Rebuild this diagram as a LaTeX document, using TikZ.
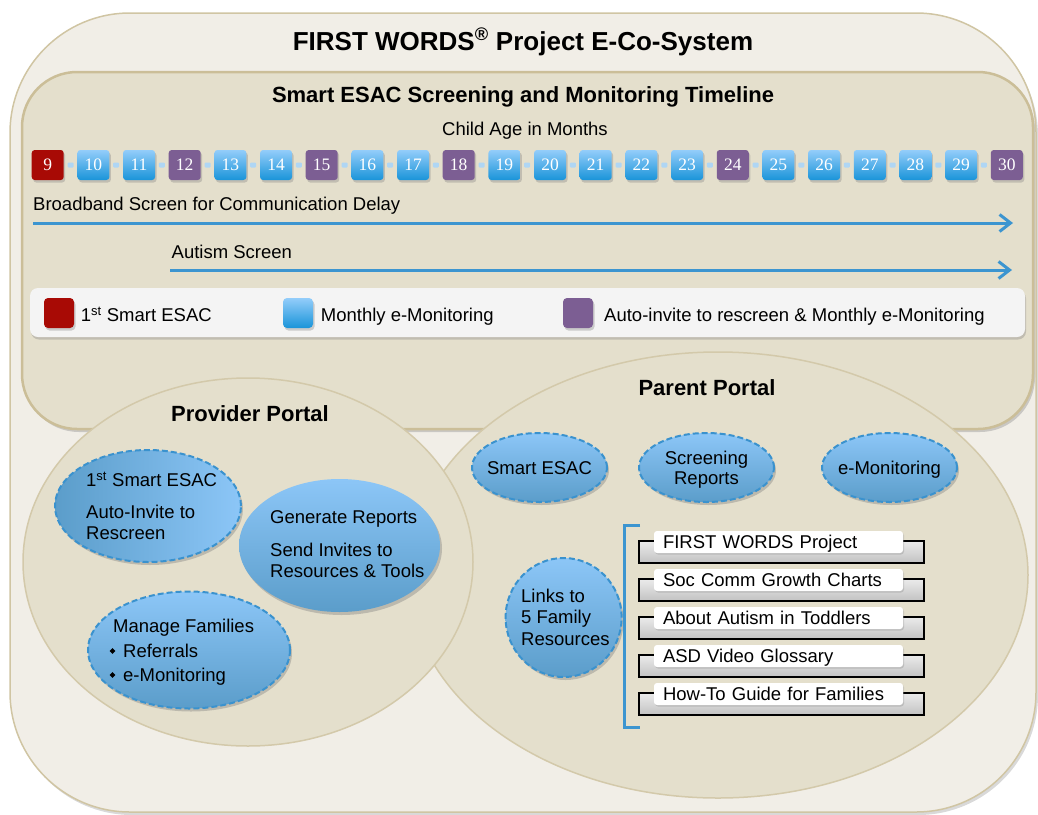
\documentclass[tikz,border=0pt]{standalone}
\usepackage{fontspec}
\setmainfont{Liberation Sans}
\newfontfamily\numfont{Liberation Serif}
\usetikzlibrary{shapes.geometric,shadows,arrows.meta,calc}
\definecolor{outerfill}{HTML}{F1EEE7}
\definecolor{outerdraw}{HTML}{D0C5A3}
\definecolor{tlfill}{HTML}{E4DFCC}
\definecolor{tldraw}{HTML}{CBBE98}
\definecolor{portfill}{HTML}{E4DFCC}
\definecolor{portdraw}{HTML}{D3C9AA}
\definecolor{redbox}{HTML}{A80A05}
\definecolor{purplebox}{HTML}{7C5E93}
\definecolor{bluetop}{HTML}{93CDFA}
\definecolor{bluebot}{HTML}{1A94D9}
\definecolor{arrowblue}{HTML}{3C95D0}
\definecolor{elltop}{HTML}{8CC6F7}
\definecolor{ellbot}{HTML}{5B9DCA}
\definecolor{dashblue}{HTML}{3A92CE}
\definecolor{tickblue}{HTML}{AFD6F4}
\definecolor{legfill}{HTML}{F4F4F4}
\definecolor{greytop}{HTML}{EBEBEB}
\definecolor{greybot}{HTML}{C2C2C2}
\tikzset{
  lbl/.style={inner sep=0pt, font=\fontsize{18.5}{21}\selectfont, anchor=base west},
  ttl/.style={inner sep=0pt, font=\bfseries\fontsize{22}{22}\selectfont},
  shad/.style={drop shadow={opacity=0.35, shadow xshift=1.5pt, shadow yshift=-2.5pt}},
  mbox/.style={minimum width=32pt, minimum height=30pt, rounded corners=3pt, inner sep=0pt,
    text=white, font=\numfont\fontsize{17.5}{17.5}\selectfont, shad},
  mred/.style={mbox, fill=redbox},
  mpur/.style={mbox, fill=purplebox},
  mblue/.style={mbox, top color=bluetop, bottom color=bluebot},
  tickn/.style={fill=tickblue, minimum width=6pt, minimum height=5pt, inner sep=0pt, rounded corners=1pt},
  tlarrow/.style={draw=arrowblue, line width=3pt, -{Straight Barb[length=11pt, width=17pt]}},
  lsq/.style={minimum size=30pt, inner sep=0pt, rounded corners=4pt, shad},
  portal/.style={ellipse, draw=portdraw, fill=portfill, line width=1.5pt, inner sep=0pt},
  sell/.style={ellipse, inner sep=0pt, top color=elltop, bottom color=ellbot,
    drop shadow={opacity=0.4, shadow xshift=2pt, shadow yshift=-3pt}},
  dell/.style={sell, draw=dashblue, line width=2pt, dash pattern=on 6pt off 3pt},
  bul/.style={diamond, fill=black, minimum size=6pt, inner sep=0pt},
  brk/.style={draw=arrowblue, line width=3pt},
  backbox/.style={rectangle, draw=black, line width=1.3pt, top color=greytop, bottom color=greybot,
    minimum width=285pt, minimum height=22pt, inner sep=0pt},
  frontbox/.style={rectangle, rounded corners=3pt, fill=white, minimum width=249pt, minimum height=22pt,
    text width=231pt, inner xsep=9pt, inner ysep=0pt, align=left, text height=14pt, text depth=1pt,
    font=\fontsize{18.5}{21}\selectfont, drop shadow={opacity=0.3, shadow xshift=1pt, shadow yshift=-1.5pt}}
}
\begin{document}
\begin{tikzpicture}[x=1pt, y=-1pt]
\useasboundingbox (0,0) rectangle (1038,814);
% outer frame
\path[draw=outerdraw, fill=outerfill, line width=1.5pt, rounded corners=120pt,
  drop shadow={opacity=0.3, shadow xshift=2pt, shadow yshift=-3pt}] (10,13) rectangle (1036,812);
\node[inner sep=0pt, font=\bfseries\fontsize{26}{26}\selectfont, anchor=base] (title) at (523,50)
  {FIRST WORDS\textsuperscript{®} Project E-Co-System};
% timeline panel
\path[draw=tldraw, fill=tlfill, line width=2.5pt, rounded corners=55pt,
  drop shadow={opacity=0.35, shadow xshift=2pt, shadow yshift=-3pt}] (22,72) rectangle (1033,429);
\node[inner sep=0pt, font=\bfseries\fontsize{22}{22}\selectfont, anchor=base] (sub) at (523,102)
  {Smart ESAC Screening and Monitoring Timeline};
\node[lbl, anchor=base] (age) at (525,135) {Child Age in Months};
\foreach \m/\s in {9/mred,10/mblue,11/mblue,12/mpur,13/mblue,14/mblue,15/mpur,16/mblue,17/mblue,
  18/mpur,19/mblue,20/mblue,21/mblue,22/mblue,23/mblue,24/mpur,25/mblue,26/mblue,27/mblue,28/mblue,
  29/mblue,30/mpur}{
  \node[style=\s] (b\m) at ({47.7+45.67*(\m-9)},165) {\m};
}
\foreach \m in {9,...,29}{
  \pgfmathtruncatemacro{\n}{\m+1}
  \path (b\m.east) -- (b\n.west) node[midway, tickn] (c\m) {};
}
\node[lbl] (bbt) at (33,210) {Broadband Screen for Communication Delay};
\coordinate (bbs) at (33,223);
\coordinate (bbe) at (1013,223);
\draw[tlarrow] (bbs) -- (bbe);
\node[lbl] (autt) at (171.5,258) {Autism Screen};
\coordinate (aus) at (170,270);
\coordinate (aue) at (1012,270);
\draw[tlarrow] (aus) -- (aue);
% legend
\node[rectangle, rounded corners=8pt, fill=legfill, minimum width=995pt, minimum height=49pt, inner sep=0pt,
  drop shadow={opacity=0.35, shadow xshift=1pt, shadow yshift=-2.5pt}] (leg) at (527.5,312.5) {};
\node[lsq, fill=redbox] (lr) at (59,313) {};
\node[lsq, top color=bluetop, bottom color=bluebot] (lb) at (298,313) {};
\node[lsq, fill=purplebox] (lp) at (578,313) {};
\node[lbl] (lrt) at (80.7,321.7) {1\textsuperscript{st} Smart ESAC};
\node[lbl] (lbt) at (320.7,321.7) {Monthly e-Monitoring};
\node[lbl] (lpt) at (604,321.7) {Auto-invite to rescreen \& Monthly e-Monitoring};
% portals
\node[portal, minimum width=620pt, minimum height=446pt] (parent) at (718,575) {};
\node[portal, minimum width=450pt, minimum height=368pt] (provider) at (248,562) {};
\node[ttl] (provt) at (250,414) {Provider Portal};
\node[ttl] (part) at (707,388) {Parent Portal};
% provider items
\node[dell, left color=ellbot, right color=elltop, minimum width=186pt, minimum height=112pt] (pe1) at (148,506) {};
\node[lbl] (pe1a) at (86,486.5) {1\textsuperscript{st} Smart ESAC};
\node[lbl] (pe1b) at (86,518.5) {Auto-Invite to};
\node[lbl] (pe1c) at (86,539.5) {Rescreen};
\node[sell, minimum width=201pt, minimum height=133pt] (pe2) at (339.5,545.5) {};
\node[lbl] (pe2a) at (270,523.5) {Generate Reports};
\node[lbl] (pe2b) at (270,556.5) {Send Invites to};
\node[lbl] (pe2c) at (270,577.5) {Resources \& Tools};
\node[dell, minimum width=202pt, minimum height=117pt] (pe3) at (189,650) {};
\node[lbl] (pe3a) at (113,632.5) {Manage Families};
\node[bul] (d1) at (112.5,651) {};
\node[lbl] (pe3b) at (123,657.5) {Referrals};
\node[bul] (d2) at (112.5,675) {};
\node[lbl] (pe3c) at (123,681.5) {e-Monitoring};
% parent items
\node[dell, minimum width=135pt, minimum height=69pt] (pa1) at (539.5,467.5) {};
\node[lbl, anchor=base] (pa1t) at (539.5,474) {Smart ESAC};
\node[dell, minimum width=135pt, minimum height=69pt] (pa2) at (706.5,467.5) {};
\node[lbl, anchor=base] (pa2a) at (706.5,464.8) {Screening};
\node[lbl, anchor=base] (pa2b) at (706.5,484.8) {Reports};
\node[dell, minimum width=135pt, minimum height=69pt] (pa3) at (889.5,467.5) {};
\node[lbl, anchor=base] (pa3t) at (889.5,474) {e-Monitoring};
\node[dell, minimum width=116pt, minimum height=119pt] (links) at (563.6,617.5) {};
\node[lbl] (lk1) at (521,602.5) {Links to};
\node[lbl] (lk2) at (521,623.5) {5 Family};
\node[lbl] (lk3) at (521,645) {Resources};
% bracket
\coordinate (bra) at (640,525);
\coordinate (brb) at (624,525);
\coordinate (brc) at (624,727);
\coordinate (brd) at (640,727);
\draw[brk] (bra) -- (brb) -- (brc) -- (brd);
% resource list
\foreach \t [count=\i from 0] in {FIRST WORDS Project, Soc Comm Growth Charts, About Autism in Toddlers,
  ASD Video Glossary, How-To Guide for Families}{
  \node[backbox] (bk\i) at (781.5,{552+38*\i}) {};
  \node[frontbox] (fr\i) at (778.5,{542+38*\i}) {\t};
}
\end{tikzpicture}
\end{document}
